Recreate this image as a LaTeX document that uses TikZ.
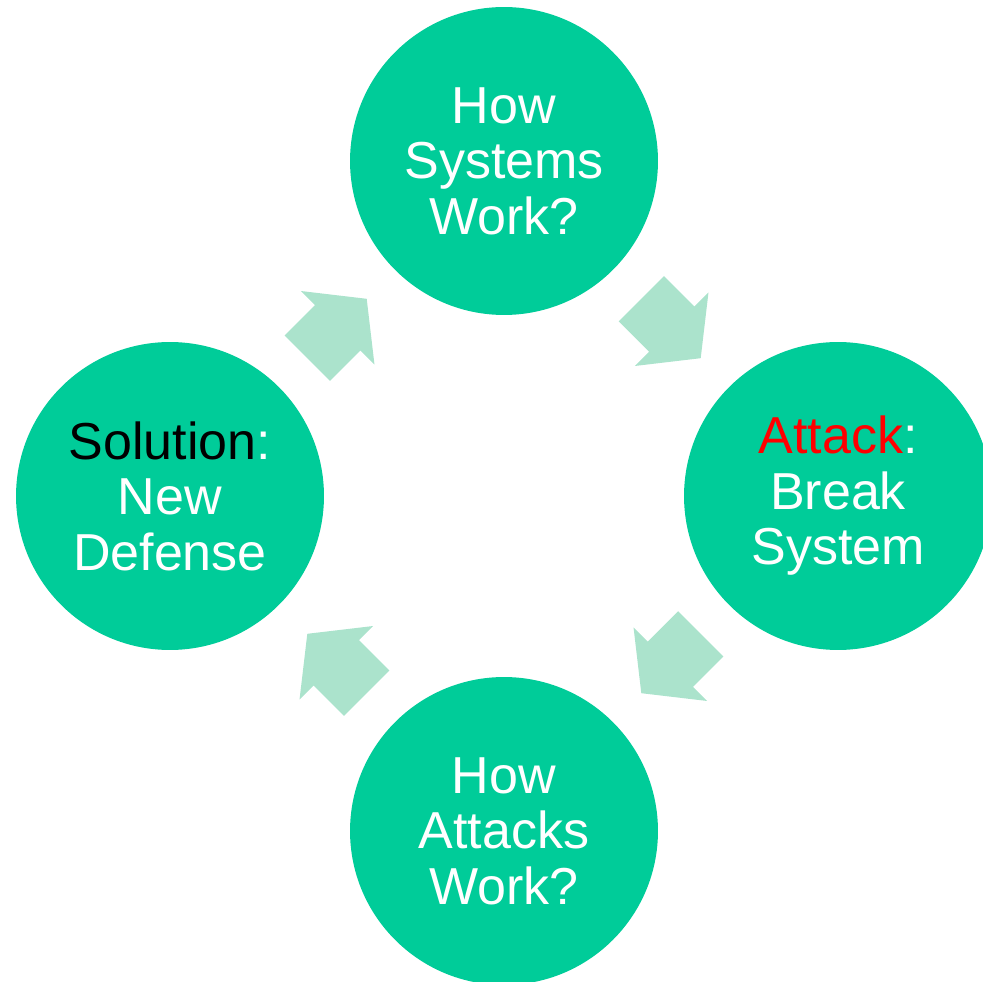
\documentclass[tikz,border=0pt]{standalone}
\usepackage{fontspec}
\setmainfont{Liberation Sans}
\usepackage{xcolor}
\usepackage{tikz}
\usetikzlibrary{calc}

\definecolor{stagegreen}{RGB}{0,204,153}
\definecolor{flowgreen}{RGB}{171,227,204}

\begin{document}
\begin{tikzpicture}[
        x=0.02cm, y=0.02cm,
        stage/.style={circle, fill=stagegreen, draw=none, minimum size=6.16cm, inner sep=0pt,
            align=center, text=white, font=\fontsize{29.6}{31.6}\selectfont},
        flow/.style={fill=flowgreen, draw=none}
    ]
    \clip (0,0) rectangle (983,981);

    % Stages of the cycle
    \node[stage] (howsys) at (504,820) {How\\Systems\\Work?};
    \node[stage] (attack) at (838,485) {\textcolor{red}{Attack}:\\Break\\System};
    \node[stage] (howatk) at (504,150) {How\\Attacks\\Work?};
    \node[stage] (defense) at (170,485) {\textcolor{black}{Solution}:\\New\\Defense};

    % Block arrows between stages
    \fill[flow, shift={($(howsys)!0.5!(attack)$)}, rotate=-45]
        (-42,32) -- (1,32) -- (1,52) -- (42,0) -- (1,-52) -- (1,-32) -- (-42,-32) -- cycle;
    \fill[flow, shift={($(attack)!0.5!(howatk)$)}, rotate=-135]
        (-42,32) -- (1,32) -- (1,52) -- (42,0) -- (1,-52) -- (1,-32) -- (-42,-32) -- cycle;
    \fill[flow, shift={($(howatk)!0.5!(defense)$)}, rotate=135]
        (-42,32) -- (1,32) -- (1,52) -- (42,0) -- (1,-52) -- (1,-32) -- (-42,-32) -- cycle;
    \fill[flow, shift={($(defense)!0.5!(howsys)$)}, rotate=45]
        (-42,32) -- (1,32) -- (1,52) -- (42,0) -- (1,-52) -- (1,-32) -- (-42,-32) -- cycle;

\end{tikzpicture}
\end{document}
